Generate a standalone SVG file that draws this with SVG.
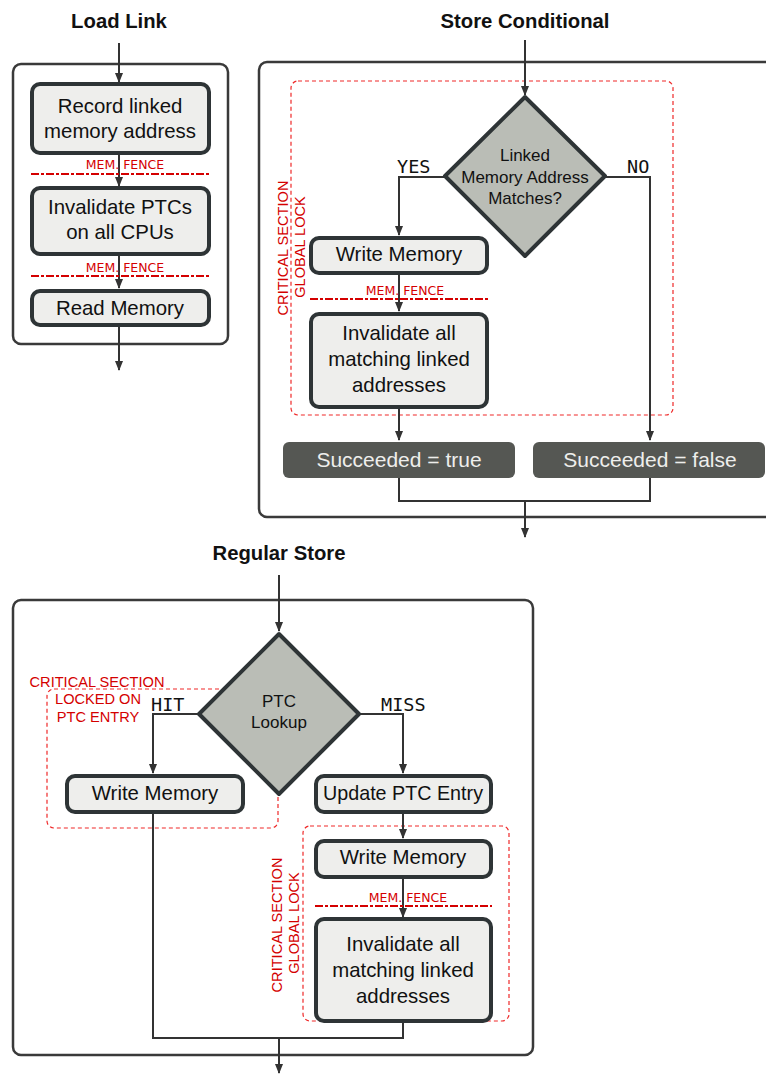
<svg xmlns="http://www.w3.org/2000/svg" width="766" height="1075" viewBox="0 0 766 1075">
  <style>
    .title { font-family: "Liberation Sans", Arial, sans-serif; font-weight: bold; font-size: 20.3px; fill: #111; text-anchor: middle; }
    .frame { fill: #ffffff; stroke: #3a3a3a; stroke-width: 2.5; }
    .box { fill: #eeeeec; stroke: #2e3436; stroke-width: 4; }
    .dark { fill: #555753; stroke: none; }
    .diamond { fill: #babdb6; stroke: #2e3436; stroke-width: 4; stroke-linejoin: round; }
    .txt { font-family: "Liberation Sans", Arial, sans-serif; font-size: 20.4px; fill: #111; text-anchor: middle; }
    .dtxt { font-family: "Liberation Sans", Arial, sans-serif; font-size: 17px; fill: #111; text-anchor: middle; }
    .wtxt { font-family: "Liberation Sans", Arial, sans-serif; font-size: 21px; fill: #eeeeec; text-anchor: middle; }
    .mono { font-family: "DejaVu Sans Mono", "Liberation Mono", monospace; font-size: 18.5px; fill: #111; }
    .fence { stroke: #d40000; stroke-width: 2; stroke-dasharray: 8,2,3,2; fill: none; }
    .ftxt { font-family: "DejaVu Sans", sans-serif; font-size: 12.5px; fill: #d40000; text-anchor: middle; }
    .crit { fill: none; stroke: #ef2929; stroke-width: 1.2; stroke-dasharray: 4,3; }
    .ctxt { font-family: "Liberation Sans", Arial, sans-serif; font-size: 14.6px; fill: #d40000; }
    .link { fill: none; stroke: #333333; stroke-width: 2; }
  </style>
  <defs>
    <marker id="arrow" markerUnits="userSpaceOnUse" markerWidth="10" markerHeight="10" viewBox="0 0 10 10" refX="9" refY="5" orient="auto">
      <path d="M0,1 L10,5 L0,9 Z" fill="#333333"/>
    </marker>
  </defs>

  <!-- section titles -->
  <text class="title" x="119" y="28">Load Link</text>
  <text class="title" x="525" y="28">Store Conditional</text>
  <text class="title" x="279" y="560">Regular Store</text>

  <!-- outer frames -->
  <g id="frame-load-link"><rect class="frame" x="13" y="64" width="215" height="280" rx="8"/></g>
  <g id="frame-store-conditional"><rect class="frame" x="259" y="62" width="520" height="455" rx="8"/></g>
  <g id="frame-regular-store"><rect class="frame" x="13" y="600" width="520" height="455" rx="8"/></g>

  <!-- critical section regions -->
  <g id="crit-sc-global">
    <rect class="crit" x="291" y="81" width="382" height="334" rx="7"/>
    <text class="ctxt" text-anchor="middle" transform="translate(288,248) rotate(-90)">CRITICAL SECTION</text>
    <text class="ctxt" text-anchor="middle" transform="translate(305,247) rotate(-90)">GLOBAL LOCK</text>
  </g>
  <g id="crit-rs-entry">
    <rect class="crit" x="47" y="689" width="231" height="139" rx="7"/>
    <text class="ctxt" x="97" y="687" text-anchor="middle">CRITICAL SECTION</text>
    <text class="ctxt" x="98" y="704" text-anchor="middle">LOCKED ON</text>
    <text class="ctxt" x="98" y="722" text-anchor="middle">PTC ENTRY</text>
  </g>
  <g id="crit-rs-global">
    <rect class="crit" x="303" y="826" width="206" height="195" rx="7"/>
    <text class="ctxt" text-anchor="middle" transform="translate(282,925) rotate(-90)">CRITICAL SECTION</text>
    <text class="ctxt" text-anchor="middle" transform="translate(299,923) rotate(-90)">GLOBAL LOCK</text>
  </g>

  <!-- connectors -->
  <g id="connectors">
    <!-- load link -->
    <line class="link" x1="119" y1="43" x2="119" y2="82" marker-end="url(#arrow)"/>
    <line class="link" x1="119" y1="153" x2="119" y2="186" marker-end="url(#arrow)"/>
    <line class="link" x1="119" y1="254" x2="119" y2="288" marker-end="url(#arrow)"/>
    <line class="link" x1="119" y1="325" x2="119" y2="370" marker-end="url(#arrow)"/>
    <!-- store conditional -->
    <line class="link" x1="525" y1="40" x2="525" y2="95" marker-end="url(#arrow)"/>
    <polyline class="link" points="446,177 399,177 399,235" marker-end="url(#arrow)"/>
    <polyline class="link" points="604,177 650,177 650,440" marker-end="url(#arrow)"/>
    <line class="link" x1="399" y1="273" x2="399" y2="311" marker-end="url(#arrow)"/>
    <line class="link" x1="399" y1="407" x2="399" y2="440" marker-end="url(#arrow)"/>
    <polyline class="link" points="399,478 399,501 650,501 650,478"/>
    <line class="link" x1="525" y1="501" x2="525" y2="537" marker-end="url(#arrow)"/>
    <!-- regular store -->
    <line class="link" x1="279" y1="575" x2="279" y2="631" marker-end="url(#arrow)"/>
    <polyline class="link" points="200,714 153,714 153,773" marker-end="url(#arrow)"/>
    <polyline class="link" points="358,714 403,714 403,773" marker-end="url(#arrow)"/>
    <line class="link" x1="403" y1="812" x2="403" y2="838" marker-end="url(#arrow)"/>
    <line class="link" x1="403" y1="877" x2="403" y2="917" marker-end="url(#arrow)"/>
    <polyline class="link" points="153,812 153,1038 403,1038 403,1021"/>
    <line class="link" x1="279" y1="1038" x2="279" y2="1073" marker-end="url(#arrow)"/>
  </g>

  <!-- memory fences -->
  <g id="fence-ll-1">
    <text class="ftxt" x="125" y="169">MEM. FENCE</text>
    <line class="fence" x1="31" y1="174" x2="210" y2="174"/>
  </g>
  <g id="fence-ll-2">
    <text class="ftxt" x="125" y="272">MEM. FENCE</text>
    <line class="fence" x1="31" y1="276" x2="210" y2="276"/>
  </g>
  <g id="fence-sc">
    <text class="ftxt" x="405" y="295">MEM. FENCE</text>
    <line class="fence" x1="310" y1="299" x2="488" y2="299"/>
  </g>
  <g id="fence-rs">
    <text class="ftxt" x="408" y="902">MEM. FENCE</text>
    <line class="fence" x1="315" y1="906" x2="492" y2="906"/>
  </g>

  <!-- load link nodes -->
  <g id="ll-record">
    <rect class="box" x="32" y="84" width="177" height="69" rx="8"/>
    <text class="txt" x="120" y="113">Record linked</text>
    <text class="txt" x="120" y="138">memory address</text>
  </g>
  <g id="ll-invalidate">
    <rect class="box" x="32" y="188" width="177" height="66" rx="8"/>
    <text class="txt" x="120" y="214">Invalidate PTCs</text>
    <text class="txt" x="120" y="239">on all CPUs</text>
  </g>
  <g id="ll-read">
    <rect class="box" x="32" y="291" width="177" height="34" rx="8"/>
    <text class="txt" x="120" y="315">Read Memory</text>
  </g>

  <!-- store conditional nodes -->
  <g id="sc-decision">
    <path class="diamond" d="M525,97 L605,176 L525,256 L445,176 Z"/>
    <text class="dtxt" x="525" y="161">Linked</text>
    <text class="dtxt" x="525" y="183">Memory Address</text>
    <text class="dtxt" x="525" y="204">Matches?</text>
  </g>
  <text class="mono" x="397" y="173">YES</text>
  <text class="mono" x="627" y="173">NO</text>
  <g id="sc-write">
    <rect class="box" x="311" y="238" width="176" height="35" rx="8"/>
    <text class="txt" x="399" y="261">Write Memory</text>
  </g>
  <g id="sc-invalidate">
    <rect class="box" x="311" y="314" width="176" height="93" rx="8"/>
    <text class="txt" x="399" y="340">Invalidate all</text>
    <text class="txt" x="399" y="366">matching linked</text>
    <text class="txt" x="399" y="392">addresses</text>
  </g>
  <g id="sc-true">
    <rect class="dark" x="283" y="442" width="232" height="36" rx="6"/>
    <text class="wtxt" x="399" y="467">Succeeded = true</text>
  </g>
  <g id="sc-false">
    <rect class="dark" x="533" y="442" width="232" height="36" rx="6"/>
    <text class="wtxt" x="650" y="467">Succeeded = false</text>
  </g>

  <!-- regular store nodes -->
  <g id="rs-decision">
    <path class="diamond" d="M279,634 L359,714 L279,794 L199,714 Z"/>
    <text class="dtxt" x="279" y="707">PTC</text>
    <text class="dtxt" x="279" y="728">Lookup</text>
  </g>
  <text class="mono" x="151" y="711">HIT</text>
  <text class="mono" x="381" y="711">MISS</text>
  <g id="rs-write-hit">
    <rect class="box" x="67" y="776" width="176" height="36" rx="8"/>
    <text class="txt" x="155" y="800">Write Memory</text>
  </g>
  <g id="rs-update">
    <rect class="box" x="316" y="776" width="175" height="36" rx="8"/>
    <text class="txt" x="403" y="800" textLength="160" lengthAdjust="spacingAndGlyphs">Update PTC Entry</text>
  </g>
  <g id="rs-write-miss">
    <rect class="box" x="316" y="841" width="175" height="36" rx="8"/>
    <text class="txt" x="403" y="864">Write Memory</text>
  </g>
  <g id="rs-invalidate">
    <rect class="box" x="316" y="919" width="175" height="102" rx="8"/>
    <text class="txt" x="403" y="951">Invalidate all</text>
    <text class="txt" x="403" y="977">matching linked</text>
    <text class="txt" x="403" y="1003">addresses</text>
  </g>
</svg>
